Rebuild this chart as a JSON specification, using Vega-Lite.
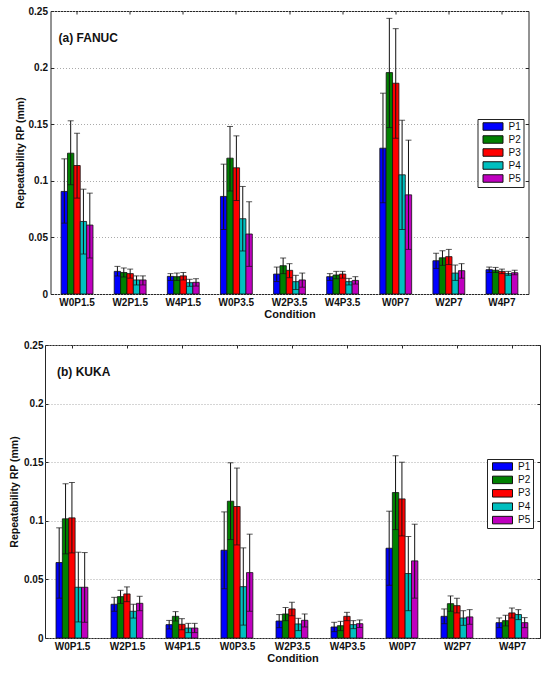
{
  "$schema": "https://vega.github.io/schema/vega-lite/v6.json",
  "background": "white",
  "padding": {"left": 9, "top": 5, "right": 5, "bottom": 5},
  "config": {
    "font": "Liberation Sans",
    "view": {"stroke": "#262626", "strokeWidth": 1},
    "axis": {"domain": false, "tickColor": "#262626", "labelColor": "#111", "titleColor": "#111"}
  },
  "datasets": {
    "rp": [
      {"robot": "FANUC", "cond": "W0P1.5", "P": "P1", "rp": 0.0906, "lo": 0.0626, "hi": 0.1194},
      {"robot": "FANUC", "cond": "W0P1.5", "P": "P2", "rp": 0.1244, "lo": 0.0965, "hi": 0.153},
      {"robot": "FANUC", "cond": "W0P1.5", "P": "P3", "rp": 0.1135, "lo": 0.0847, "hi": 0.142},
      {"robot": "FANUC", "cond": "W0P1.5", "P": "P4", "rp": 0.0641, "lo": 0.0353, "hi": 0.0926},
      {"robot": "FANUC", "cond": "W0P1.5", "P": "P5", "rp": 0.0609, "lo": 0.0318, "hi": 0.0891},
      {"robot": "FANUC", "cond": "W2P1.5", "P": "P1", "rp": 0.020, "lo": 0.0159, "hi": 0.0244},
      {"robot": "FANUC", "cond": "W2P1.5", "P": "P2", "rp": 0.019, "lo": 0.015, "hi": 0.023},
      {"robot": "FANUC", "cond": "W2P1.5", "P": "P3", "rp": 0.018, "lo": 0.014, "hi": 0.022},
      {"robot": "FANUC", "cond": "W2P1.5", "P": "P4", "rp": 0.0124, "lo": 0.008, "hi": 0.016},
      {"robot": "FANUC", "cond": "W2P1.5", "P": "P5", "rp": 0.0124, "lo": 0.008, "hi": 0.016},
      {"robot": "FANUC", "cond": "W4P1.5", "P": "P1", "rp": 0.0156, "lo": 0.012, "hi": 0.018},
      {"robot": "FANUC", "cond": "W4P1.5", "P": "P2", "rp": 0.0153, "lo": 0.012, "hi": 0.0185},
      {"robot": "FANUC", "cond": "W4P1.5", "P": "P3", "rp": 0.016, "lo": 0.0124, "hi": 0.019},
      {"robot": "FANUC", "cond": "W4P1.5", "P": "P4", "rp": 0.010, "lo": 0.0068, "hi": 0.013},
      {"robot": "FANUC", "cond": "W4P1.5", "P": "P5", "rp": 0.0103, "lo": 0.007, "hi": 0.0135},
      {"robot": "FANUC", "cond": "W0P3.5", "P": "P1", "rp": 0.0862, "lo": 0.057, "hi": 0.1147},
      {"robot": "FANUC", "cond": "W0P3.5", "P": "P2", "rp": 0.12, "lo": 0.091, "hi": 0.148},
      {"robot": "FANUC", "cond": "W0P3.5", "P": "P3", "rp": 0.1115, "lo": 0.0826, "hi": 0.1397},
      {"robot": "FANUC", "cond": "W0P3.5", "P": "P4", "rp": 0.0665, "lo": 0.038, "hi": 0.095},
      {"robot": "FANUC", "cond": "W0P3.5", "P": "P5", "rp": 0.053, "lo": 0.0244, "hi": 0.0815},
      {"robot": "FANUC", "cond": "W2P3.5", "P": "P1", "rp": 0.0176, "lo": 0.011, "hi": 0.0238},
      {"robot": "FANUC", "cond": "W2P3.5", "P": "P2", "rp": 0.025, "lo": 0.018, "hi": 0.0318},
      {"robot": "FANUC", "cond": "W2P3.5", "P": "P3", "rp": 0.0209, "lo": 0.0144, "hi": 0.0268},
      {"robot": "FANUC", "cond": "W2P3.5", "P": "P4", "rp": 0.0109, "lo": 0.004, "hi": 0.0165},
      {"robot": "FANUC", "cond": "W2P3.5", "P": "P5", "rp": 0.0124, "lo": 0.006, "hi": 0.0185},
      {"robot": "FANUC", "cond": "W4P3.5", "P": "P1", "rp": 0.0153, "lo": 0.012, "hi": 0.018},
      {"robot": "FANUC", "cond": "W4P3.5", "P": "P2", "rp": 0.0168, "lo": 0.0135, "hi": 0.020},
      {"robot": "FANUC", "cond": "W4P3.5", "P": "P3", "rp": 0.0176, "lo": 0.014, "hi": 0.020},
      {"robot": "FANUC", "cond": "W4P3.5", "P": "P4", "rp": 0.0109, "lo": 0.008, "hi": 0.0138},
      {"robot": "FANUC", "cond": "W4P3.5", "P": "P5", "rp": 0.012, "lo": 0.0088, "hi": 0.0153},
      {"robot": "FANUC", "cond": "W0P7", "P": "P1", "rp": 0.1288, "lo": 0.0806, "hi": 0.1774},
      {"robot": "FANUC", "cond": "W0P7", "P": "P2", "rp": 0.1956, "lo": 0.147, "hi": 0.2435},
      {"robot": "FANUC", "cond": "W0P7", "P": "P3", "rp": 0.1862, "lo": 0.1376, "hi": 0.2344},
      {"robot": "FANUC", "cond": "W0P7", "P": "P4", "rp": 0.1053, "lo": 0.057, "hi": 0.1535},
      {"robot": "FANUC", "cond": "W0P7", "P": "P5", "rp": 0.0876, "lo": 0.0394, "hi": 0.1359},
      {"robot": "FANUC", "cond": "W2P7", "P": "P1", "rp": 0.0294, "lo": 0.0226, "hi": 0.036},
      {"robot": "FANUC", "cond": "W2P7", "P": "P2", "rp": 0.032, "lo": 0.0253, "hi": 0.0382},
      {"robot": "FANUC", "cond": "W2P7", "P": "P3", "rp": 0.033, "lo": 0.026, "hi": 0.0394},
      {"robot": "FANUC", "cond": "W2P7", "P": "P4", "rp": 0.0185, "lo": 0.012, "hi": 0.0256},
      {"robot": "FANUC", "cond": "W2P7", "P": "P5", "rp": 0.0206, "lo": 0.014, "hi": 0.0268},
      {"robot": "FANUC", "cond": "W4P7", "P": "P1", "rp": 0.0215, "lo": 0.019, "hi": 0.0238},
      {"robot": "FANUC", "cond": "W4P7", "P": "P2", "rp": 0.021, "lo": 0.019, "hi": 0.0235},
      {"robot": "FANUC", "cond": "W4P7", "P": "P3", "rp": 0.020, "lo": 0.018, "hi": 0.022},
      {"robot": "FANUC", "cond": "W4P7", "P": "P4", "rp": 0.018, "lo": 0.0165, "hi": 0.020},
      {"robot": "FANUC", "cond": "W4P7", "P": "P5", "rp": 0.0188, "lo": 0.017, "hi": 0.021},
      {"robot": "KUKA", "cond": "W0P1.5", "P": "P1", "rp": 0.0644, "lo": 0.034, "hi": 0.094},
      {"robot": "KUKA", "cond": "W0P1.5", "P": "P2", "rp": 0.1017, "lo": 0.0718, "hi": 0.1316},
      {"robot": "KUKA", "cond": "W0P1.5", "P": "P3", "rp": 0.1025, "lo": 0.0726, "hi": 0.1327},
      {"robot": "KUKA", "cond": "W0P1.5", "P": "P4", "rp": 0.0433, "lo": 0.0137, "hi": 0.0732},
      {"robot": "KUKA", "cond": "W0P1.5", "P": "P5", "rp": 0.0433, "lo": 0.0134, "hi": 0.0729},
      {"robot": "KUKA", "cond": "W2P1.5", "P": "P1", "rp": 0.0288, "lo": 0.0228, "hi": 0.0347},
      {"robot": "KUKA", "cond": "W2P1.5", "P": "P2", "rp": 0.0353, "lo": 0.0295, "hi": 0.0407},
      {"robot": "KUKA", "cond": "W2P1.5", "P": "P3", "rp": 0.0376, "lo": 0.031, "hi": 0.0436},
      {"robot": "KUKA", "cond": "W2P1.5", "P": "P4", "rp": 0.0228, "lo": 0.017, "hi": 0.0288},
      {"robot": "KUKA", "cond": "W2P1.5", "P": "P5", "rp": 0.0296, "lo": 0.0233, "hi": 0.0356},
      {"robot": "KUKA", "cond": "W4P1.5", "P": "P1", "rp": 0.0114, "lo": 0.0077, "hi": 0.015},
      {"robot": "KUKA", "cond": "W4P1.5", "P": "P2", "rp": 0.0185, "lo": 0.0145, "hi": 0.0225},
      {"robot": "KUKA", "cond": "W4P1.5", "P": "P3", "rp": 0.0117, "lo": 0.007, "hi": 0.0165},
      {"robot": "KUKA", "cond": "W4P1.5", "P": "P4", "rp": 0.0085, "lo": 0.0046, "hi": 0.0125},
      {"robot": "KUKA", "cond": "W4P1.5", "P": "P5", "rp": 0.0085, "lo": 0.0046, "hi": 0.0125},
      {"robot": "KUKA", "cond": "W0P3.5", "P": "P1", "rp": 0.0749, "lo": 0.042, "hi": 0.1076},
      {"robot": "KUKA", "cond": "W0P3.5", "P": "P2", "rp": 0.1167, "lo": 0.084, "hi": 0.1495},
      {"robot": "KUKA", "cond": "W0P3.5", "P": "P3", "rp": 0.1122, "lo": 0.0794, "hi": 0.145},
      {"robot": "KUKA", "cond": "W0P3.5", "P": "P4", "rp": 0.0438, "lo": 0.011, "hi": 0.0769},
      {"robot": "KUKA", "cond": "W0P3.5", "P": "P5", "rp": 0.0558, "lo": 0.0228, "hi": 0.0886},
      {"robot": "KUKA", "cond": "W2P3.5", "P": "P1", "rp": 0.0145, "lo": 0.0088, "hi": 0.020},
      {"robot": "KUKA", "cond": "W2P3.5", "P": "P2", "rp": 0.0205, "lo": 0.0148, "hi": 0.026},
      {"robot": "KUKA", "cond": "W2P3.5", "P": "P3", "rp": 0.0248, "lo": 0.019, "hi": 0.0305},
      {"robot": "KUKA", "cond": "W2P3.5", "P": "P4", "rp": 0.012, "lo": 0.0063, "hi": 0.0168},
      {"robot": "KUKA", "cond": "W2P3.5", "P": "P5", "rp": 0.0151, "lo": 0.0094, "hi": 0.0205},
      {"robot": "KUKA", "cond": "W4P3.5", "P": "P1", "rp": 0.0094, "lo": 0.0054, "hi": 0.0134},
      {"robot": "KUKA", "cond": "W4P3.5", "P": "P2", "rp": 0.0105, "lo": 0.0063, "hi": 0.0142},
      {"robot": "KUKA", "cond": "W4P3.5", "P": "P3", "rp": 0.0185, "lo": 0.0148, "hi": 0.0219},
      {"robot": "KUKA", "cond": "W4P3.5", "P": "P4", "rp": 0.0114, "lo": 0.008, "hi": 0.0148},
      {"robot": "KUKA", "cond": "W4P3.5", "P": "P5", "rp": 0.0122, "lo": 0.009, "hi": 0.0154},
      {"robot": "KUKA", "cond": "W0P7", "P": "P1", "rp": 0.0766, "lo": 0.045, "hi": 0.1082},
      {"robot": "KUKA", "cond": "W0P7", "P": "P2", "rp": 0.1241, "lo": 0.0925, "hi": 0.1555},
      {"robot": "KUKA", "cond": "W0P7", "P": "P3", "rp": 0.1187, "lo": 0.0871, "hi": 0.150},
      {"robot": "KUKA", "cond": "W0P7", "P": "P4", "rp": 0.055, "lo": 0.0233, "hi": 0.0866},
      {"robot": "KUKA", "cond": "W0P7", "P": "P5", "rp": 0.0658, "lo": 0.034, "hi": 0.0971},
      {"robot": "KUKA", "cond": "W2P7", "P": "P1", "rp": 0.0185, "lo": 0.0122, "hi": 0.0248},
      {"robot": "KUKA", "cond": "W2P7", "P": "P2", "rp": 0.0293, "lo": 0.0228, "hi": 0.0359},
      {"robot": "KUKA", "cond": "W2P7", "P": "P3", "rp": 0.0276, "lo": 0.0214, "hi": 0.0339},
      {"robot": "KUKA", "cond": "W2P7", "P": "P4", "rp": 0.0171, "lo": 0.0108, "hi": 0.0233},
      {"robot": "KUKA", "cond": "W2P7", "P": "P5", "rp": 0.018, "lo": 0.0117, "hi": 0.0242},
      {"robot": "KUKA", "cond": "W4P7", "P": "P1", "rp": 0.0131, "lo": 0.0088, "hi": 0.0171},
      {"robot": "KUKA", "cond": "W4P7", "P": "P2", "rp": 0.0148, "lo": 0.0103, "hi": 0.0194},
      {"robot": "KUKA", "cond": "W4P7", "P": "P3", "rp": 0.0214, "lo": 0.0171, "hi": 0.0256},
      {"robot": "KUKA", "cond": "W4P7", "P": "P4", "rp": 0.02, "lo": 0.0157, "hi": 0.0242},
      {"robot": "KUKA", "cond": "W4P7", "P": "P5", "rp": 0.0131, "lo": 0.0088, "hi": 0.0174}
    ]
  },
  "data": {"name": "rp"},
  "spacing": 19,
  "center": true,
  "resolve": {"scale": {"color": "independent"}},
  "vconcat": [
    {
      "width": 478,
      "height": 283,
      "transform": [{"filter": "datum.robot === 'FANUC'"}],
      "encoding": {
        "x": {"field": "cond", "type": "nominal", "sort": ["W0P1.5", "W2P1.5", "W4P1.5", "W0P3.5", "W2P3.5", "W4P3.5", "W0P7", "W2P7", "W4P7"], "scale": {"paddingInner": 0.4, "paddingOuter": 0.2}, "axis": null},
        "xOffset": {"field": "P", "type": "nominal", "scale": {"paddingInner": 0, "paddingOuter": 0}}
      },
      "layer": [
        {
          "mark": {"type": "bar", "stroke": "#111", "strokeWidth": 0.8},
          "encoding": {
            "x": {"field": "cond", "type": "nominal", "sort": ["W0P1.5", "W2P1.5", "W4P1.5", "W0P3.5", "W2P3.5", "W4P3.5", "W0P7", "W2P7", "W4P7"], "axis": {"title": "Condition", "orient": "bottom", "ticks": false, "labelAngle": 0, "labelFontSize": 10, "labelFontWeight": "bold", "labelPadding": 3, "titleFontSize": 11, "titleFontWeight": "bold", "titlePadding": 1}},
            "y": {"field": "rp", "type": "quantitative", "scale": {"domain": [0, 0.25], "nice": false}, "axis": {"title": "Repeatability RP (mm)", "orient": "left", "values": [0, 0.05, 0.1, 0.15, 0.2, 0.25], "format": "~g", "grid": true, "gridDash": [1, 2], "gridColor": "#aaaaaa", "tickSize": -3, "labelPadding": 6, "labelFontSize": 10, "labelFontWeight": "bold", "titleFontSize": 10.5, "titleFontWeight": "bold", "titlePadding": 3}},
            "color": {"field": "P", "type": "nominal", "scale": {"domain": ["P1", "P2", "P3", "P4", "P5"], "range": ["#0000ff", "#008000", "#ff0000", "#00bfbf", "#bf00bf"]}, "legend": {"title": null, "orient": "none", "legendX": 427, "legendY": 108, "strokeColor": "#222", "fillColor": "white", "padding": 2, "rowPadding": 0, "labelFontSize": 10, "labelColor": "#111", "symbolType": "M-2,-0.75H2V0.75H-2Z", "symbolSize": 100, "symbolStrokeColor": "#111", "symbolStrokeWidth": 1, "symbolOpacity": 1, "symbolOffset": 8, "labelOffset": 10}}
          }
        },
        {
          "mark": {"type": "rule", "color": "#111", "strokeWidth": 1},
          "encoding": {
            "x": {"field": "cond", "type": "nominal", "sort": ["W0P1.5", "W2P1.5", "W4P1.5", "W0P3.5", "W2P3.5", "W4P3.5", "W0P7", "W2P7", "W4P7"], "axis": {"title": null, "orient": "top", "labels": false, "tickSize": -3}},
            "y": {"field": "lo", "type": "quantitative", "axis": {"title": " ", "titleFontSize": 6, "titlePadding": 0, "orient": "right", "labels": false, "grid": false, "values": [0, 0.05, 0.1, 0.15, 0.2, 0.25], "tickSize": -3}},
            "y2": {"field": "hi"}
          }
        },
        {
          "mark": {"type": "tick", "color": "#111", "size": 6, "thickness": 1},
          "encoding": {
            "y": {"field": "hi", "type": "quantitative", "axis": null}
          }
        },
        {
          "mark": {"type": "tick", "color": "#111", "size": 6, "thickness": 1},
          "encoding": {
            "y": {"field": "lo", "type": "quantitative", "axis": null}
          }
        },
        {
          "data": {"values": [{"robot": "FANUC", "label": "(a) FANUC"}]},
          "mark": {"type": "text", "fontSize": 12, "fontWeight": "bold", "align": "left", "baseline": "middle", "dx": -2.5, "color": "#111"},
          "encoding": {
            "x": {"datum": "W0P1.5", "bandPosition": 0, "axis": null},
            "xOffset": {"value": 0},
            "y": {"datum": 0.226, "axis": null},
            "text": {"field": "label"}
          }
        }
      ],
      "resolve": {"axis": {"x": "independent", "y": "independent"}}
    },
    {
      "width": 495,
      "height": 293,
      "transform": [{"filter": "datum.robot === 'KUKA'"}],
      "encoding": {
        "x": {"field": "cond", "type": "nominal", "sort": ["W0P1.5", "W2P1.5", "W4P1.5", "W0P3.5", "W2P3.5", "W4P3.5", "W0P7", "W2P7", "W4P7"], "scale": {"paddingInner": 0.4, "paddingOuter": 0.2}, "axis": null},
        "xOffset": {"field": "P", "type": "nominal", "scale": {"paddingInner": 0, "paddingOuter": 0}}
      },
      "layer": [
        {
          "mark": {"type": "bar", "stroke": "#111", "strokeWidth": 0.8},
          "encoding": {
            "x": {"field": "cond", "type": "nominal", "sort": ["W0P1.5", "W2P1.5", "W4P1.5", "W0P3.5", "W2P3.5", "W4P3.5", "W0P7", "W2P7", "W4P7"], "axis": {"title": "Condition", "orient": "bottom", "ticks": false, "labelAngle": 0, "labelFontSize": 10, "labelFontWeight": "bold", "labelPadding": 3, "titleFontSize": 11, "titleFontWeight": "bold", "titlePadding": 1}},
            "y": {"field": "rp", "type": "quantitative", "scale": {"domain": [0, 0.25], "nice": false}, "axis": {"title": "Repeatability RP (mm)", "orient": "left", "values": [0, 0.05, 0.1, 0.15, 0.2, 0.25], "format": "~g", "grid": true, "gridDash": [1, 2], "gridColor": "#aaaaaa", "tickSize": -3, "labelPadding": 5, "labelFontSize": 10, "labelFontWeight": "bold", "titleFontSize": 10.5, "titleFontWeight": "bold", "titlePadding": 4}},
            "color": {"field": "P", "type": "nominal", "scale": {"domain": ["P1", "P2", "P3", "P4", "P5"], "range": ["#0000ff", "#008000", "#ff0000", "#00bfbf", "#bf00bf"]}, "legend": {"title": null, "orient": "none", "legendX": 442, "legendY": 114, "strokeColor": "#222", "fillColor": "white", "padding": 2, "rowPadding": 0.4, "labelFontSize": 10, "labelColor": "#111", "symbolType": "M-2,-0.75H2V0.75H-2Z", "symbolSize": 100, "symbolStrokeColor": "#111", "symbolStrokeWidth": 1, "symbolOpacity": 1, "symbolOffset": 8, "labelOffset": 10}}
          }
        },
        {
          "mark": {"type": "rule", "color": "#111", "strokeWidth": 1},
          "encoding": {
            "x": {"field": "cond", "type": "nominal", "sort": ["W0P1.5", "W2P1.5", "W4P1.5", "W0P3.5", "W2P3.5", "W4P3.5", "W0P7", "W2P7", "W4P7"], "axis": {"title": null, "orient": "top", "labels": false, "tickSize": -3}},
            "y": {"field": "lo", "type": "quantitative", "axis": {"title": null, "orient": "right", "labels": false, "grid": false, "values": [0, 0.05, 0.1, 0.15, 0.2, 0.25], "tickSize": -3}},
            "y2": {"field": "hi"}
          }
        },
        {
          "mark": {"type": "tick", "color": "#111", "size": 6, "thickness": 1},
          "encoding": {
            "y": {"field": "hi", "type": "quantitative", "axis": null}
          }
        },
        {
          "mark": {"type": "tick", "color": "#111", "size": 6, "thickness": 1},
          "encoding": {
            "y": {"field": "lo", "type": "quantitative", "axis": null}
          }
        },
        {
          "data": {"values": [{"robot": "KUKA", "label": "(b) KUKA"}]},
          "mark": {"type": "text", "fontSize": 12, "fontWeight": "bold", "align": "left", "baseline": "middle", "dx": 1, "color": "#111"},
          "encoding": {
            "x": {"datum": "W0P1.5", "bandPosition": 0, "axis": null},
            "xOffset": {"value": 0},
            "y": {"datum": 0.227, "axis": null},
            "text": {"field": "label"}
          }
        }
      ],
      "resolve": {"axis": {"x": "independent", "y": "independent"}}
    }
  ]
}
